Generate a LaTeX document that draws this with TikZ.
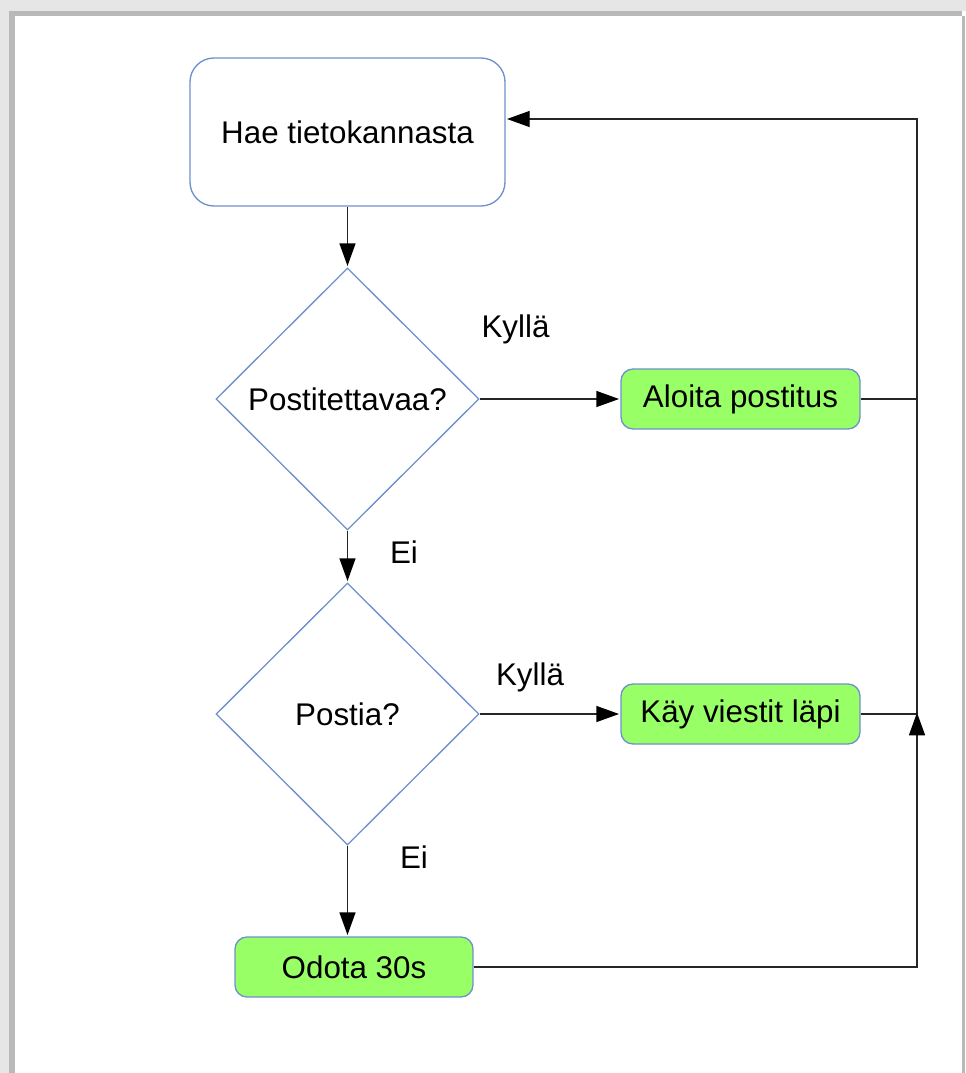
\documentclass[tikz,border=0pt]{standalone}
\usepackage{fontspec}
\setmainfont{Liberation Sans}
\usetikzlibrary{shapes.geometric,arrows.meta}
\definecolor{boxblue}{RGB}{110,145,205}
\definecolor{boxgreen}{RGB}{153,255,102}
\definecolor{shadowA}{RGB}{230,230,230}
\definecolor{shadowB}{RGB}{185,185,185}
\begin{document}
\begin{tikzpicture}[x=0.75pt,y=-0.75pt,
  txt/.style={font=\fontsize{23.5}{28}\selectfont, text=black},
  startbox/.style={txt, draw=boxblue, line width=1pt, rectangle, rounded corners=18pt, inner sep=0pt},
  greenbox/.style={txt, draw=boxblue, fill=boxgreen, line width=1pt, rectangle, rounded corners=9pt, inner sep=0pt, minimum width=239*0.75pt, minimum height=60*0.75pt},
  decision/.style={txt, draw=boxblue, line width=1pt, diamond, inner sep=0pt, minimum width=263*0.75pt, minimum height=262*0.75pt},
  conn/.style={draw=black!85, line width=1pt},
  arr/.style={conn, -{Triangle[length=17pt,width=12pt,color=black]}, shorten >=1pt},
  lbl/.style={txt}]
% page frame
\useasboundingbox (0,0) rectangle (966,1073);
\fill[white] (0,0) rectangle (966,1073);
\fill[shadowA] (0,0) rectangle (966,11);
\fill[shadowA] (0,0) rectangle (9,1073);
\fill[shadowB] (9,11) rectangle (962,16);
\fill[shadowB] (9,11) rectangle (15,1073);
\fill[shadowB] (962,16) rectangle (965,1073);
% nodes
\node[startbox, minimum width=315*0.75pt, minimum height=148*0.75pt] (db) at (347.5,132) {Hae tietokannasta};
\node[decision] (d1) at (347.5,399) {Postitettavaa?};
\node[decision] (d2) at (347.5,714) {Postia?};
\node[greenbox] (send) at (740.5,399) {Aloita postitus};
\node[greenbox] (read) at (740.5,714) {Käy viestit läpi};
\node[greenbox, minimum width=238*0.75pt] (wait) at (354,967) {Odota 30s};
\node[lbl] (k1) at (515.5,329) {Kyllä};
\node[lbl] (e1) at (404,552) {Ei};
\node[lbl] (k2) at (530,677) {Kyllä};
\node[lbl] (e2) at (414,857) {Ei};
\coordinate (j) at (917,714);
\coordinate (top) at (917,119);
% connectors
\draw[arr] (db.south) -- (d1.north);
\draw[arr] (d1.east) -- (send.west);
\draw[arr] (d1.south) -- (d2.north);
\draw[arr] (d2.east) -- (read.west);
\draw[arr] (d2.south) -- (d2.south |- wait.north);
\draw[conn] (send.east) -- (send.east -| j);
\draw[conn] (read.east) -- (j);
\draw[arr] (j) -- (top) -- (db.east |- top);
\draw[arr] (wait.east) -| ([yshift=2]j);
\end{tikzpicture}
\end{document}
